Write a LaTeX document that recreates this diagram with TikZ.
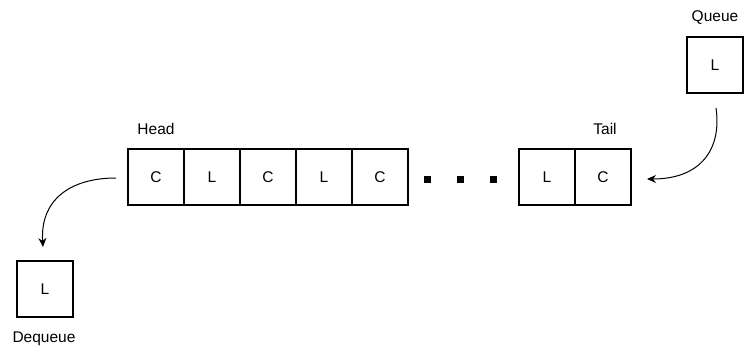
\documentclass[tikz,border=0pt]{standalone}
\usepackage{fontspec}
\setmainfont{Liberation Sans}
\usetikzlibrary{arrows.meta}
\begin{document}
\begin{tikzpicture}[x=1pt,y=-1pt,
  cell/.style={draw,line width=1.5pt,minimum size=56pt,inner sep=0pt,font=\fontsize{15.5}{18}\selectfont},
  lbl/.style={font=\fontsize{15.5}{18}\selectfont,inner sep=0pt},
  dot/.style={fill=black,minimum size=7pt,inner sep=0pt},
  arr/.style={line width=1pt,-{Stealth[length=9pt,width=8pt]}}]
\useasboundingbox (0,0) rectangle (747,350);
\node[cell] (c1) at (156,177) {C};
\node[cell] (c2) at (212,177) {L};
\node[cell] (c3) at (268,177) {C};
\node[cell] (c4) at (324,177) {L};
\node[cell] (c5) at (380,177) {C};
\node[dot] (d1) at (427,179) {};
\node[dot] (d2) at (460,179) {};
\node[dot] (d3) at (493,179) {};
\node[cell] (t1) at (547,177) {L};
\node[cell] (t2) at (603,177) {C};
\node[cell] (q) at (715,65) {L};
\node[cell] (dq) at (45,289) {L};
\node[lbl] (head) at (156,129) {Head};
\node[lbl] (tail) at (605,129) {Tail};
\node[lbl] (ql) at (715,18) {Queue};
\node[lbl] (dql) at (44,339) {Dequeue};
\coordinate (qs) at (716,108);
\coordinate (qe) at (647,179);
\coordinate (hs) at (116,178);
\coordinate (he) at (43,247);
\draw[arr] (qs) .. controls (722,150) and (700,179) .. (qe);
\draw[arr] (hs) .. controls (70,178) and (40,200) .. (he);
\end{tikzpicture}
\end{document}
